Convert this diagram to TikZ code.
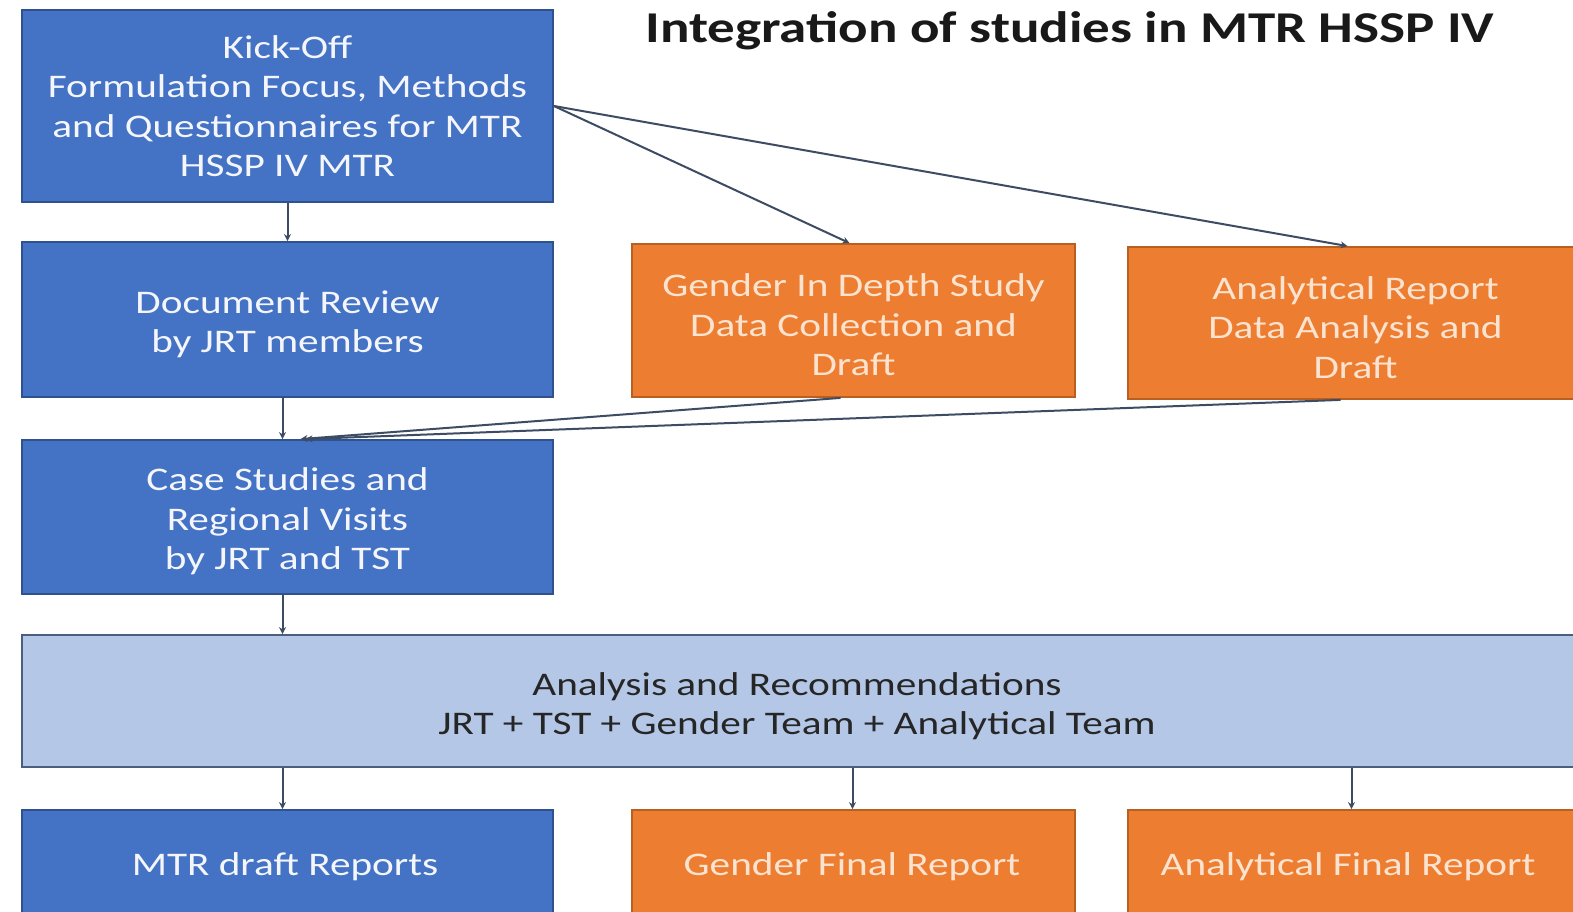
\documentclass[tikz,border=0pt]{standalone}
\usepackage{fontspec}
\setmainfont{Carlito}[FakeStretch=1.25]
\usetikzlibrary{arrows.meta}
\definecolor{bfill}{HTML}{4472C4}
\definecolor{bdraw}{HTML}{2F528F}
\definecolor{ofill}{HTML}{ED7D31}
\definecolor{odraw}{HTML}{B85F22}
\definecolor{lfill}{HTML}{B4C7E7}
\definecolor{ldraw}{HTML}{4A5F80}
\definecolor{otext}{HTML}{FBE3D0}
\definecolor{btext}{HTML}{F4F6FB}
\definecolor{arrcol}{HTML}{3E4C63}
\newcommand\topstrut{\rule{0pt}{32pt}}
\tikzset{
  box/.style={rectangle, line width=1.8pt, align=center, inner sep=0pt,
    font=\fontsize{33}{39.5}\selectfont},
  bluebox/.style={box, fill=bfill, draw=bdraw, text=btext},
  orangebox/.style={box, fill=ofill, draw=odraw, text=otext},
  lightbox/.style={box, fill=lfill, draw=ldraw, text=black!85},
  arr/.style={draw=arrcol, line width=2pt, -{Stealth[length=7pt,width=7pt]}},
}
\begin{document}
\begin{tikzpicture}[x=1pt,y=-1pt]
\useasboundingbox (0,0) rectangle (1573,912);
\clip (0,0) rectangle (1573,912);
\fill[white] (0,0) rectangle (1573,912);
% boxes (centre, size)
\node[bluebox, minimum width=531pt, minimum height=192pt] (kick) at (287.5,106)
  {Kick-Off\\Formulation Focus, Methods\\and Questionnaires for MTR\\HSSP IV MTR};
\node[bluebox, minimum width=531pt, minimum height=155pt] (doc) at (287.5,319.5)
  {\topstrut Document Review\\by JRT members};
\node[bluebox, minimum width=531pt, minimum height=154pt] (case) at (287.5,517)
  {\topstrut Case Studies and\\Regional Visits\\by JRT and TST};
\node[lightbox, minimum width=1556pt, minimum height=132pt] (ana) at (800,701)
  {};
\node[lightbox, draw=none, fill=none] (anatext) at (797,706)
  {Analysis and Recommendations\\JRT + TST + Gender Team + Analytical Team};
\node[bluebox, minimum width=531pt, minimum height=110pt] (mtr) at (287.5,865)
  {};
\node[text=btext, font=\fontsize{33}{40}\selectfont] (mtrtext) at (285,867) {MTR draft Reports};
\node[orangebox, minimum width=443pt, minimum height=153pt] (gid) at (853.5,320.5)
  {\topstrut Gender In Depth Study\\Data Collection and\\Draft};
\node[orangebox, minimum width=455pt, minimum height=152pt] (ar) at (1355.5,323)
  {\topstrut Analytical Report\\Data Analysis and\\Draft};
\node[orangebox, minimum width=443pt, minimum height=110pt] (gfin) at (853.5,865)
  {};
\node[text=otext, font=\fontsize{33}{40}\selectfont] (gfintext) at (852,867) {Gender Final Report};
\node[orangebox, minimum width=455pt, minimum height=110pt] (afin) at (1355.5,865)
  {};
\node[text=otext, font=\fontsize{33}{40}\selectfont] (afintext) at (1348,867) {Analytical Final Report};
% title
\node[font=\fontsize{44}{48}\selectfont\bfseries, text=black!90] (title) at (1070,31)
  {Integration of studies in MTR HSSP IV};
% arrows
\draw[arr] (kick.south) -- (doc.north);
\draw[arr] ([xshift=-5pt]doc.south) -- ([xshift=-5pt]case.north);
\draw[arr] ([xshift=-5pt]case.south) -- ([xshift=-5pt]case.south |- ana.north);
\draw[arr] (kick.east) -- ([xshift=-4pt]gid.north);
\draw[arr] (kick.east) -- ([xshift=-8pt]ar.north);
\draw[arr] ([xshift=-13pt]gid.south) -- ([xshift=13pt]case.north);
\draw[arr] ([xshift=-15pt]ar.south) -- ([xshift=18pt]case.north);
\draw[arr] ([xshift=-5pt]mtr.north |- ana.south) -- ([xshift=-5pt]mtr.north);
\draw[arr] ([xshift=-1pt]gfin.north |- ana.south) -- ([xshift=-1pt]gfin.north);
\draw[arr] ([xshift=-4pt]afin.north |- ana.south) -- ([xshift=-4pt]afin.north);
\end{tikzpicture}
\end{document}
